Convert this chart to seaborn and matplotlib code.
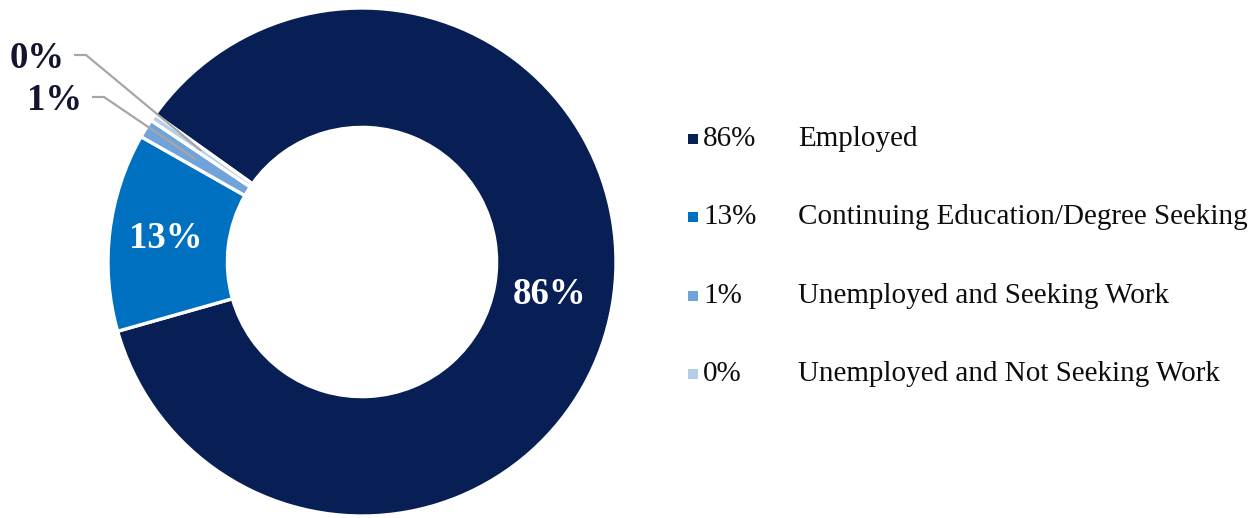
import numpy as np
import matplotlib
matplotlib.use("Agg")
import matplotlib.pyplot as plt
import seaborn as sns

# Graduate outcomes
categories = ["Employed", "Continuing Education/Degree Seeking",
              "Unemployed and Seeking Work", "Unemployed and Not Seeking Work"]
shares = [85.7, 12.6, 1.2, 0.45]
colors = ["#081F56", "#0070C0", "#6FA3D9", "#B4CDE9"]

sns.set_theme(style="white")
plt.rcParams["font.family"] = ["Liberation Serif", "DejaVu Serif"]

W, H = 1258, 518
fig = plt.figure(figsize=(W / 100, H / 100), dpi=100)
fig.patch.set_facecolor("white")

# Donut: centre (362, 262) px, outer radius 254 px
cx, cy, R = 362, 262, 254
ax = fig.add_axes([(cx - R) / W, (H - cy - R) / H, 2 * R / W, 2 * R / H])

wedges, _ = ax.pie(shares, colors=colors, startangle=144.5, counterclock=False,
                   radius=1.0,
                   wedgeprops=dict(width=0.47, edgecolor="white", linewidth=2.4))
ax.set_xlim(-1, 1)
ax.set_ylim(-1, 1)
ax.set_aspect("equal")
ax.axis("off")

def pct(v):
    return f"{v:.0f}%"

def mid_point(w, r):
    ang = np.deg2rad((w.theta1 + w.theta2) / 2)
    return r * np.cos(ang), r * np.sin(ang)

# In-ring labels for the large slices
for w, v, r in zip(wedges[:2], shares[:2], [0.75, 0.78]):
    x, y = mid_point(w, r)
    ax.text(x, y, pct(v), ha="center", va="center", color="white",
            fontsize=26.5, fontweight="bold")

# Outside labels with leader lines for the thin slices
label_color = "#14142F"
line_color = "#A6A6A6"
px = lambda x: (x - cx) / R
py = lambda y: (cy - y) / R
outside = {2: (82, 100, 92, 104), 3: (65, 58, 74, 86)}
for i, (tx, ty, lx0, lx1) in outside.items():
    ax.text(px(tx), py(ty), pct(shares[i]), ha="right", va="center",
            color=label_color, fontsize=26.5, fontweight="bold")
    ex, ey = mid_point(wedges[i], 0.77)
    ax.plot([px(lx0), px(lx1), ex], [py(ty - 3), py(ty - 3), ey],
            color=line_color, lw=1.6, clip_on=False, solid_capstyle="butt")

# Legend column
lax = fig.add_axes([0, 0, 1, 1])
lax.set_xlim(0, W)
lax.set_ylim(H, 0)
lax.axis("off")
lax.patch.set_alpha(0)
row0, step = 139, 78.3
for i, (cat, v, c) in enumerate(zip(categories, shares, colors)):
    y = row0 + i * step
    lax.scatter([693], [y], marker="s", s=42, color=c, linewidths=0)
    lax.text(703, y, pct(v), ha="left", va="center", fontsize=21,
             color="#0D0D0D")
    lax.text(798, y, cat, ha="left", va="center", fontsize=21,
             color="#0D0D0D")

fig.savefig("out.png", dpi=100, facecolor="white")
